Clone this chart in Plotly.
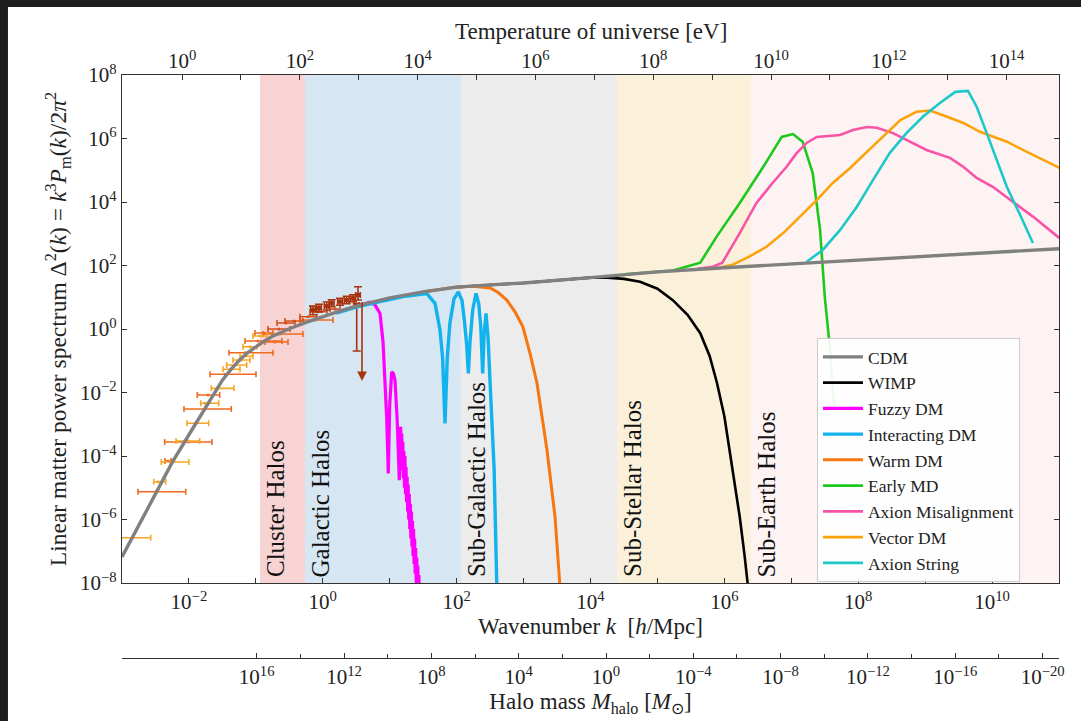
import plotly.graph_objects as go

# ---------------- data (log10 values) ----------------
cdm_logk = [-3.0, -2.75, -2.5, -2.25, -2.0, -1.875, -1.75, -1.625, -1.5, -1.375, -1.25, -1.125, -1.0, -0.875, -0.75,
            -0.5, -0.25, 0.0, 0.25, 0.5, 0.75, 1.0, 1.5, 2.0, 2.5, 3.0, 4.0, 5.0, 6.0, 7.0, 8.0, 9.0, 10.0, 11.0]
cdm_logD = [-7.18, -6.2, -5.18, -4.2, -3.33, -2.89, -2.45, -2.02, -1.61, -1.28, -0.99, -0.75, -0.55, -0.38, -0.23,
            0.01, 0.21, 0.39, 0.56, 0.72, 0.86, 0.98, 1.17, 1.32, 1.39, 1.45, 1.62, 1.8, 1.93, 2.05, 2.17, 2.28, 2.4, 2.53]

wimp_logk = [2.0, 3.0, 4.0, 4.25, 4.5, 4.74, 5.0, 5.23, 5.45, 5.64, 5.78, 5.89, 6.0, 6.08, 6.16, 6.23, 6.3, 6.35, 6.4]
wimp_logD = [1.32, 1.45, 1.62, 1.62, 1.58, 1.49, 1.27, 0.91, 0.45, -0.13, -0.85, -1.70, -2.75, -3.81, -4.85, -5.92, -7.1, -8.0, -9.0]

fuzzy_logk = [0.2, 0.5, 0.705, 0.78, 0.855, 0.90, 0.929, 0.955, 0.979, 1.0, 1.03, 1.055, 1.079, 1.11, 1.143,
              1.164, 1.172, 1.18, 1.188, 1.196, 1.204, 1.212, 1.22, 1.228, 1.236, 1.244, 1.252, 1.26, 1.268,
              1.276, 1.284, 1.292, 1.30, 1.308, 1.316, 1.324, 1.332, 1.34, 1.348, 1.356, 1.364, 1.372, 1.38,
              1.388, 1.396, 1.404, 1.412, 1.42, 1.428, 1.436, 1.444, 1.452, 1.46]
fuzzy_logD = [0.52, 0.72, 0.84, 0.76, 0.49, -0.4, -1.61, -2.8, -4.55, -2.4, -1.35, -1.40, -1.61, -2.8, -4.76,
              -3.08, -4.2, -3.3, -4.45, -3.55, -4.7, -3.85, -5.0, -4.0, -5.2, -4.35, -5.45, -4.65, -5.75,
              -4.9, -6.0, -5.2, -6.3, -5.5, -6.6, -5.75, -6.85, -6.05, -7.15, -6.3, -7.4, -6.6, -7.7,
              -6.9, -8.0, -7.2, -8.3, -7.45, -8.6, -7.75, -8.9, -8.05, -9.0]

idm_logk = [0.2, 0.5, 0.855, 1.2, 1.553, 1.677, 1.751, 1.79, 1.826, 1.86, 1.90, 1.96, 2.025, 2.08, 2.115, 2.15,
            2.175, 2.20, 2.24, 2.289, 2.33, 2.36, 2.389, 2.41, 2.439, 2.47, 2.498, 2.53, 2.56, 2.598, 2.62]
idm_logD = [0.50, 0.69, 0.86, 1.02, 1.12, 0.81, -0.03, -0.9, -2.97, -0.9, 0.2, 0.95, 1.17, 0.9, 0.28, -0.5,
            -1.40, -0.4, 0.6, 1.12, 0.8, 0.1, -1.40, -0.2, 0.49, -0.3, -1.61, -3.0, -4.4, -7.9, -9.0]

wdm_logk = [1.5, 2.0, 2.245, 2.5, 2.62, 2.75, 2.87, 2.99, 3.1, 3.2, 3.35, 3.47, 3.54, 3.58]
wdm_logD = [1.17, 1.32, 1.35, 1.29, 1.15, 0.91, 0.55, 0.07, -0.8, -1.70, -3.81, -5.92, -8.0, -9.0]

emd_logk = [4.5, 5.23, 5.64, 5.885, 6.23, 6.57, 6.857, 7.025, 7.17, 7.32, 7.43, 7.50, 7.58, 7.62, 7.64]
emd_logD = [1.72, 1.84, 2.09, 2.91, 3.97, 5.07, 6.05, 6.14, 5.90, 4.91, 3.12, 1.02, -0.66, -2.0, -2.5]

axm_logk = [5.6, 5.83, 5.97, 6.23, 6.48, 6.72, 6.93, 7.08, 7.23, 7.38, 7.73, 7.92, 8.13, 8.28, 8.52, 8.72, 9.02,
            9.37, 9.57, 9.77, 10.01, 10.31, 10.61, 10.98, 11.05]
axm_logD = [1.9, 1.96, 2.09, 3.02, 3.97, 4.60, 5.11, 5.54, 5.86, 6.05, 6.11, 6.27, 6.36, 6.34, 6.17, 5.95, 5.64,
            5.39, 5.11, 4.76, 4.48, 4.01, 3.54, 2.91, 2.8]

vdm_logk = [5.9, 6.12, 6.37, 6.63, 6.88, 7.13, 7.38, 7.62, 7.88, 8.13, 8.37, 8.63, 8.87, 9.07, 9.32, 9.57, 9.82,
            10.22, 10.52, 10.98, 11.05]
vdm_logD = [1.92, 2.02, 2.28, 2.59, 3.02, 3.54, 4.06, 4.60, 5.07, 5.58, 6.06, 6.58, 6.84, 6.88, 6.69, 6.49, 6.21,
            5.90, 5.58, 5.10, 5.03]

axs_logk = [7.23, 7.47, 7.73, 7.98, 8.22, 8.47, 8.72, 8.97, 9.22, 9.45, 9.64, 9.77, 9.92, 10.07, 10.22, 10.42, 10.61]
axs_logD = [2.12, 2.49, 3.12, 3.85, 4.69, 5.54, 6.17, 6.69, 7.12, 7.47, 7.50, 7.00, 6.17, 5.32, 4.48, 3.59, 2.71]

# measurement points
yel_logk = [-2.836, -2.462, -2.268, -2.014, -1.909, -1.760, -1.566, -1.371, -1.297, -1.222, -1.147, -1.088, -0.938]
yel_lo = [-3.010, -2.526, -2.413, -2.193, -2.029, -1.824, -1.666, -1.491, -1.436, -1.342, -1.237, -1.192, -1.043]
yel_hi = [-2.571, -2.347, -2.001, -1.839, -1.705, -1.555, -1.327, -1.237, -1.137, -1.088, -1.043, -0.983, -0.834]
yel_logD = [-6.573, -4.809, -4.189, -3.528, -2.970, -2.340, -1.868, -1.269, -1.134, -0.976, -0.850, -0.557, -0.220]

org_logk = [-2.492, -2.014, -1.760, -1.715, -1.461, -1.162, -0.968, -0.714, -0.639, -0.878, -0.116, -2.313]
org_lo = [-2.761, -2.362, -2.074, -1.875, -1.685, -1.401, -1.162, -0.863, -0.893, -1.013, -0.341, -2.358]
org_hi = [-2.048, -1.655, -1.367, -1.540, -0.998, -0.744, -0.609, -0.520, -0.296, -0.744, 0.153, -2.268]
org_logD = [-5.124, -3.559, -2.520, -2.079, -1.427, -0.746, -0.378, -0.409, -0.157, -0.126, 0.283, -4.157]

red_logk = [-0.654, -0.550, -0.430, -0.221, -0.072, 0.182]
red_lo = [-0.819, -0.684, -0.565, -0.341, -0.191, 0.108]
red_hi = [-0.490, -0.415, -0.296, -0.087, 0.063, 0.257]
red_logD = [0.000, 0.189, 0.252, 0.387, 0.545, 0.630]

brn_logk = [-0.146, -0.057, 0.058, 0.133, 0.257, 0.357, 0.451, 0.526, 0.507]
brn_logD = [0.598, 0.661, 0.724, 0.809, 0.860, 0.913, 0.967, 1.071, 0.756]
brn_logD_lo = [0.45, 0.54, 0.60, 0.70, 0.75, 0.80, 0.86, 0.913, -0.693]
brn_logD_hi = [0.72, 0.78, 0.85, 0.92, 0.97, 1.03, 1.08, 1.332, 0.80]
brn_dlogk = 0.035

limit_logk = [0.586]
limit_logD_top = [0.90]
limit_logD_tip = [-1.64]

band_names = ["Cluster Halos", "Galactic Halos", "Sub-Galactic Halos", "Sub-Stellar Halos", "Sub-Earth Halos"]
band_logk_lo = [-0.938, -0.266, 2.065, 4.396, 6.398]
band_logk_hi = [-0.266, 2.065, 4.396, 6.398, 11.0]
band_colors = ["#f8d3d3", "#d6e6f2", "#ececec", "#fbf1da", "#fdf3f3"]

# axis ranges / ticks
k_range_log = [-3.0, 11.0]
T_range_log = [-1.02, 14.89]
M_range_log = [22.17, -20.75]
y_range_log = [-8, 8]
k_major = [-2, 0, 2, 4, 6, 8, 10]
k_minor = [-3, -1, 1, 3, 5, 7, 9, 11]
T_major = [0, 2, 4, 6, 8, 10, 12, 14]
T_minor = [1, 3, 5, 7, 9, 11, 13]
M_major = [16, 12, 8, 4, 0, -4, -8, -12, -16, -20]
M_minor = [14, 10, 6, 2, -2, -6, -10, -14, -18]
y_major = [-8, -6, -4, -2, 0, 2, 4, 6, 8]


def pw(a):
    return [10.0 ** v for v in a]


def lab(e):
    s = str(e).replace("-", "\u2212")
    return "10<sup>" + s + "</sup>"


FONT = "Liberation Serif"
TITLE_SIZE = 23
fig = go.Figure()

# bands
for name, lo, hi, col in zip(band_names, band_logk_lo, band_logk_hi, band_colors):
    fig.add_shape(type="rect", xref="x", yref="y domain", x0=10 ** lo, x1=10 ** hi, y0=0, y1=1,
                  fillcolor=col, line_width=0, layer="below")
    fig.add_annotation(text=name, x=lo, xref="x", y=0, yref="y domain", xanchor="left", yanchor="bottom",
                       textangle=-90, showarrow=False, xshift=0, yshift=4,
                       font=dict(family=FONT, size=25, color="#111"))

# measurement points
def errpts(logk, lo, hi, logD, color):
    k = pw(logk)
    return go.Scatter(x=k, y=pw(logD), mode="markers", marker=dict(size=3, color=color),
                      error_x=dict(type="data", symmetric=False,
                                   array=[10 ** h - kk for h, kk in zip(hi, k)],
                                   arrayminus=[kk - 10 ** l for l, kk in zip(lo, k)],
                                   color=color, thickness=1.6, width=3),
                      showlegend=False, hoverinfo="skip")

fig.add_trace(errpts(org_logk, org_lo, org_hi, org_logD, "#ef6a1e"))
fig.add_trace(errpts(yel_logk, yel_lo, yel_hi, yel_logD, "#f6a623"))
fig.add_trace(errpts(red_logk, red_lo, red_hi, red_logD, "#d4501a"))

bk = pw(brn_logk)
bD = pw(brn_logD)
fig.add_trace(go.Scatter(
    x=bk, y=bD, mode="markers", marker=dict(size=4, color="#a8330f", symbol="square"),
    error_x=dict(type="data", symmetric=False,
                 array=[kk * (10 ** brn_dlogk - 1) for kk in bk],
                 arrayminus=[kk * (1 - 10 ** -brn_dlogk) for kk in bk],
                 color="#a8330f", thickness=1.6, width=3),
    error_y=dict(type="data", symmetric=False,
                 array=[10 ** h - d for h, d in zip(brn_logD_hi, bD)],
                 arrayminus=[d - 10 ** l for l, d in zip(brn_logD_lo, bD)],
                 color="#a8330f", thickness=1.6, width=4),
    showlegend=False, hoverinfo="skip"))

for lk, top, tip in zip(limit_logk, limit_logD_top, limit_logD_tip):
    fig.add_annotation(x=lk, y=tip, ax=lk, ay=top, xref="x", yref="y", axref="x", ayref="y",
                       showarrow=True, arrowhead=2, arrowsize=1.2, arrowwidth=1.6, arrowcolor="#a8330f", text="")

# models
models = [
    ("WIMP", wimp_logk, wimp_logD, "#000000", 2.6, 2),
    ("Fuzzy DM", fuzzy_logk, fuzzy_logD, "#ff00ff", 3.2, 3),
    ("Interacting DM", idm_logk, idm_logD, "#12b2ef", 3.4, 4),
    ("Warm DM", wdm_logk, wdm_logD, "#f7760f", 3.0, 5),
    ("Early MD", emd_logk, emd_logD, "#1dc81d", 2.6, 6),
    ("Axion Misalignment", axm_logk, axm_logD, "#f953a8", 2.6, 7),
    ("Vector DM", vdm_logk, vdm_logD, "#fca30b", 2.6, 8),
    ("Axion String", axs_logk, axs_logD, "#1ec8c8", 2.6, 9),
]
for name, lk, ld, col, w, rank in models:
    fig.add_trace(go.Scatter(x=pw(lk), y=pw(ld), mode="lines", name=name, legendrank=rank,
                             line=dict(color=col, width=w), hoverinfo="skip"))

fig.add_trace(go.Scatter(x=pw(cdm_logk), y=pw(cdm_logD), mode="lines", name="CDM", legendrank=1,
                         line=dict(color="#808080", width=3.4), hoverinfo="skip"))

# dummy traces for secondary axes
fig.add_trace(go.Scatter(x=[1e5], y=[1], xaxis="x2", mode="markers", marker=dict(opacity=0),
                         showlegend=False, hoverinfo="skip"))
fig.add_trace(go.Scatter(x=[1e0], y=[1], xaxis="x3", mode="markers", marker=dict(opacity=0),
                         showlegend=False, hoverinfo="skip"))

AX = "#333333"
tickfont = dict(family=FONT, size=21, color="#222")
common = dict(showline=True, linecolor=AX, linewidth=1.3, ticks="inside", ticklen=5, tickwidth=1.1,
              tickcolor=AX, showgrid=False, zeroline=False, tickfont=tickfont)

# top axis title as an annotation so it sits at the reference height
fig.add_annotation(text="Temperature of universe [eV]", x=0.5, xref="paper", y=1.0738, yref="paper",
                   xanchor="center", yanchor="middle", showarrow=False,
                   font=dict(family=FONT, size=TITLE_SIZE, color="#222"))

fig.update_layout(
    width=1081, height=721,
    margin=dict(l=122, r=22, t=75, b=63, autoexpand=False),
    paper_bgcolor="white", plot_bgcolor="white",
    font=dict(family=FONT, size=19, color="#222"),
    xaxis=dict(type="log", range=k_range_log, anchor="y",
               tickmode="array", tickvals=pw(k_major), ticktext=[lab(e) for e in k_major],
               minor=dict(tickmode="array", tickvals=pw(k_minor), ticks="inside", ticklen=5, tickcolor=AX),
               title=dict(text="Wavenumber <i>k</i>  [<i>h</i>/Mpc]", font=dict(family=FONT, size=TITLE_SIZE), standoff=2),
               **common),
    xaxis2=dict(type="log", range=T_range_log, overlaying="x", side="top", anchor="y",
                tickmode="array", tickvals=pw(T_major), ticktext=[lab(e) for e in T_major],
                ticklabelstandoff=-3,
                minor=dict(tickmode="array", tickvals=pw(T_minor), ticks="inside", ticklen=5, tickcolor=AX),
                **common),
    xaxis3=dict(type="log", range=M_range_log, overlaying="x", side="bottom", anchor="free", position=0,
                tickmode="array", tickvals=pw(M_major), ticktext=[lab(e) for e in M_major],
                minor=dict(tickmode="array", tickvals=pw(M_minor), ticks="inside", ticklen=4, tickcolor=AX),
                title=dict(text="Halo mass <i>M</i><sub>halo</sub> [<i>M</i><sub>\u2299</sub>]",
                           font=dict(family=FONT, size=TITLE_SIZE), standoff=2),
                **common),
    yaxis=dict(type="log", range=y_range_log, domain=[0.1286, 1.0], mirror="ticks",
               tickmode="array", tickvals=pw(y_major), ticktext=[lab(e) for e in y_major],
               title=dict(text="Linear matter power spectrum \u0394<sup>2</sup>(<i>k</i>) = <i>k</i><sup>3</sup><i>P</i><sub>m</sub>(<i>k</i>)/2<i>\u03c0</i><sup>2</sup>",
                          font=dict(family=FONT, size=23.5), standoff=6),
               **common),
    legend=dict(x=0.7417, y=0.5489, xanchor="left", yanchor="top",
                bgcolor="rgba(255,255,255,0.92)", bordercolor="#cccccc", borderwidth=1,
                font=dict(family=FONT, size=17.5, color="#222"), itemwidth=40, tracegroupgap=0),
    showlegend=True,
)

# dark frame strips (screenshot border)
fig.add_shape(type="rect", xref="paper", yref="paper", x0=-0.1302, x1=-0.1217, y0=-0.1081, y1=1.1286,
              fillcolor="#1e1e1e", line_width=0, layer="above")
fig.add_shape(type="rect", xref="paper", yref="paper", x0=-0.1302, x1=1.0235, y0=1.1166, y1=1.1286,
              fillcolor="#1e1e1e", line_width=0, layer="above")

fig.write_html("out.html")
